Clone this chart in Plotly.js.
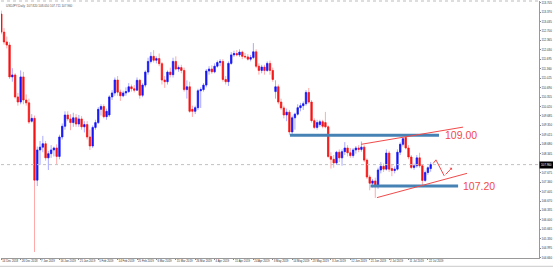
<!DOCTYPE html>
<html><head><meta charset="utf-8">
<script src="https://cdn.plot.ly/plotly-3.0.1.min.js"></script>
<style>html,body{margin:0;padding:0;background:#fff;}#chart{width:553px;height:267px;}</style>
</head><body><div id="chart"></div>
<script>
const dates = ["14 Dec 2018","17 Dec 2018","18 Dec 2018","19 Dec 2018","20 Dec 2018","21 Dec 2018","24 Dec 2018","26 Dec 2018","27 Dec 2018","28 Dec 2018","31 Dec 2018",
"2 Jan 2019","3 Jan 2019","4 Jan 2019","7 Jan 2019","8 Jan 2019","9 Jan 2019","10 Jan 2019","11 Jan 2019","14 Jan 2019","15 Jan 2019","16 Jan 2019","17 Jan 2019","18 Jan 2019","21 Jan 2019","22 Jan 2019","23 Jan 2019","24 Jan 2019","25 Jan 2019","28 Jan 2019","29 Jan 2019","30 Jan 2019","31 Jan 2019",
"1 Feb 2019","4 Feb 2019","5 Feb 2019","6 Feb 2019","7 Feb 2019","8 Feb 2019","11 Feb 2019","12 Feb 2019","13 Feb 2019","14 Feb 2019","15 Feb 2019","18 Feb 2019","19 Feb 2019","20 Feb 2019","21 Feb 2019","22 Feb 2019","25 Feb 2019","26 Feb 2019","27 Feb 2019","28 Feb 2019",
"1 Mar 2019","4 Mar 2019","5 Mar 2019","6 Mar 2019","7 Mar 2019","8 Mar 2019","11 Mar 2019","12 Mar 2019","13 Mar 2019","14 Mar 2019","15 Mar 2019","18 Mar 2019","19 Mar 2019","20 Mar 2019","21 Mar 2019","22 Mar 2019","25 Mar 2019","26 Mar 2019","27 Mar 2019","28 Mar 2019","29 Mar 2019",
"1 Apr 2019","2 Apr 2019","3 Apr 2019","4 Apr 2019","5 Apr 2019","8 Apr 2019","9 Apr 2019","10 Apr 2019","11 Apr 2019","12 Apr 2019","15 Apr 2019","16 Apr 2019","17 Apr 2019","18 Apr 2019","19 Apr 2019","22 Apr 2019","23 Apr 2019","24 Apr 2019","25 Apr 2019","26 Apr 2019","29 Apr 2019","30 Apr 2019",
"1 May 2019","2 May 2019","3 May 2019","6 May 2019","7 May 2019","8 May 2019","9 May 2019","10 May 2019","13 May 2019","14 May 2019","15 May 2019","16 May 2019","17 May 2019","20 May 2019","21 May 2019","22 May 2019","23 May 2019","24 May 2019","27 May 2019","28 May 2019","29 May 2019","30 May 2019","31 May 2019",
"3 Jun 2019","4 Jun 2019","5 Jun 2019","6 Jun 2019","7 Jun 2019","10 Jun 2019","11 Jun 2019","12 Jun 2019","13 Jun 2019","14 Jun 2019","17 Jun 2019","18 Jun 2019","19 Jun 2019","20 Jun 2019","21 Jun 2019","24 Jun 2019","25 Jun 2019","26 Jun 2019","27 Jun 2019","28 Jun 2019",
"1 Jul 2019","2 Jul 2019","3 Jul 2019","4 Jul 2019","5 Jul 2019","8 Jul 2019","9 Jul 2019","10 Jul 2019","11 Jul 2019","12 Jul 2019","15 Jul 2019","16 Jul 2019","17 Jul 2019","18 Jul 2019","19 Jul 2019","22 Jul 2019","23 Jul 2019"];

const openP = [113.30,112.66,112.31,112.20,111.07,111.14,110.36,110.18,111.07,110.25,110.15,109.50,109.60,
107.41,108.48,108.58,108.70,108.20,108.35,108.48,108.55,108.25,108.94,109.32,109.72,109.58,109.45,109.62,109.40,109.58,109.30,109.38,108.94,108.62,109.28,109.45,109.92,110.02,109.66,109.72,110.36,110.50,
110.96,110.53,110.40,110.50,110.55,110.72,110.65,110.60,110.95,110.42,110.78,
111.24,111.62,111.80,111.66,111.72,111.54,110.96,110.90,111.24,111.15,111.62,111.35,111.40,111.30,110.62,110.72,109.92,109.85,109.98,110.58,110.62,
110.78,111.28,111.35,111.25,111.45,111.58,111.62,110.98,110.90,111.55,
111.85,111.90,111.85,111.95,111.80,111.78,111.70,111.76,111.96,111.45,111.30,111.42,
111.30,111.55,111.30,110.55,110.72,110.18,109.97,109.72,109.82,109.12,109.62,109.75,109.98,110.05,110.12,110.52,110.18,109.52,109.28,109.38,109.48,109.45,109.30,
108.25,108.15,108.02,108.40,108.20,108.42,108.55,108.38,108.28,108.48,108.55,108.50,108.58,108.12,107.52,107.30,107.38,107.18,107.77,107.90,
107.80,108.37,107.82,107.75,107.80,108.40,108.68,108.92,108.55,108.23,107.86,107.92,108.20,107.92,107.40,107.68,107.82];

const highP = [113.42,112.80,112.50,112.30,111.38,111.20,110.50,111.30,111.25,110.45,110.30,109.75,109.70,
108.60,108.80,108.98,108.80,108.45,108.65,108.60,108.68,109.02,109.42,109.85,109.85,109.75,109.80,109.75,109.72,109.68,109.50,109.50,109.20,109.35,109.55,110.00,110.10,110.10,109.95,110.42,110.60,111.05,
111.10,110.62,110.58,110.70,110.85,110.80,110.78,111.05,111.00,110.85,111.30,
111.75,111.95,112.02,111.80,111.90,111.60,111.10,111.30,111.40,111.75,111.80,111.48,111.50,111.40,110.95,110.90,110.05,110.05,110.65,110.70,110.85,
111.35,111.45,111.48,111.55,111.65,111.70,111.70,111.10,111.62,111.95,
112.00,112.02,112.05,112.00,111.92,111.88,111.85,112.27,112.05,111.55,111.50,111.50,
111.62,111.65,111.40,110.95,110.80,110.30,110.05,109.95,109.90,109.70,109.80,110.10,110.15,110.20,110.60,110.68,110.25,109.60,109.55,109.55,109.55,109.83,109.35,
108.40,108.30,108.45,108.50,108.50,108.76,108.65,108.55,108.55,108.62,108.65,108.78,108.65,108.18,107.60,107.45,107.50,107.85,108.05,108.00,
108.50,108.45,107.95,107.90,108.50,108.75,108.95,109.00,108.65,108.30,108.00,108.30,108.38,107.98,107.75,107.90,108.05];

const lowP = [112.58,112.22,112.08,111.00,110.90,110.30,110.05,110.10,110.10,110.05,109.40,109.45,104.86,
107.20,107.95,108.40,108.10,107.77,108.20,108.25,107.98,108.15,108.85,109.20,109.50,109.18,109.30,109.30,109.30,109.20,109.10,108.85,108.48,108.55,109.20,109.40,109.70,109.60,109.55,109.65,110.25,110.40,
110.40,110.22,110.35,110.40,110.50,110.55,110.52,110.58,110.30,110.35,110.70,
111.15,111.55,111.58,111.55,111.45,110.80,110.68,110.80,111.05,111.05,111.30,111.25,111.20,110.55,110.30,109.80,109.65,109.75,109.90,109.97,110.55,
110.70,111.15,111.18,111.20,111.40,111.45,110.90,110.80,110.75,111.50,
111.78,111.80,111.78,111.70,111.72,111.65,111.62,111.70,111.38,111.15,111.20,111.15,
111.25,111.15,110.90,110.30,110.10,109.90,109.60,109.50,109.02,109.05,109.20,109.70,109.85,109.90,110.05,110.12,109.45,109.22,109.20,109.30,109.25,109.25,108.20,
107.82,107.85,107.95,108.05,107.92,108.30,108.25,108.20,108.20,108.35,108.40,108.42,108.05,107.45,107.05,107.15,106.78,107.10,107.65,107.70,
107.75,107.70,107.55,107.65,107.75,108.30,108.60,108.50,108.15,107.80,107.78,107.85,107.85,107.24,107.35,107.60,107.71];

const closeP = [112.66,112.31,112.20,111.07,111.14,110.36,110.18,111.07,110.25,110.15,109.47,109.60,107.41,
108.48,108.58,108.70,108.20,108.35,108.48,108.55,108.25,108.94,109.32,109.72,109.58,109.45,109.62,109.40,109.58,109.30,109.38,108.94,108.62,109.28,109.45,109.92,110.02,109.66,109.85,110.36,110.50,110.96,
110.53,110.40,110.50,110.55,110.72,110.65,110.60,110.95,110.42,110.78,111.24,
111.62,111.80,111.66,111.72,111.54,110.96,110.90,111.24,111.15,111.62,111.35,111.40,111.30,110.62,110.72,109.85,109.85,109.98,110.58,110.62,110.78,
111.28,111.35,111.25,111.45,111.58,111.62,110.98,110.90,111.55,111.85,
111.90,111.85,111.95,111.80,111.78,111.70,111.76,111.96,111.45,111.30,111.42,111.30,
111.55,111.30,110.98,110.72,110.18,109.97,109.72,109.82,109.12,109.62,109.75,109.98,110.05,110.12,110.52,110.18,109.52,109.28,109.45,109.48,109.32,109.30,108.25,
108.15,108.02,108.40,108.20,108.42,108.55,108.38,108.28,108.48,108.55,108.50,108.58,108.12,107.52,107.30,107.38,107.18,107.77,107.90,107.80,
108.37,107.80,107.75,107.80,108.40,108.68,108.88,108.55,108.23,107.86,107.92,108.20,107.92,107.40,107.68,107.85,107.96];

const yTickVals = [104.660,104.995,105.330,105.665,106.000,106.335,106.670,107.005,107.340,107.675,108.345,108.680,109.015,109.350,109.685,110.020,110.355,110.690,111.025,111.360,111.695,112.030,112.365,112.700,113.035,113.370,113.705];
const labelStep = 7;
const headerText = "USDJPY,Daily  107.820 108.050 107.711 107.960";
const level1 = 109.00, level2 = 107.20;

const xIdx = dates.map((d, i) => i);
const xTickVals = xIdx.filter(i => i % labelStep === 0);
const xTickText = xTickVals.map(i => dates[i]);
const bodyHigh = openP.map((o, i) => Math.max(o, closeP[i]));
const bodyLow = openP.map((o, i) => Math.min(o, closeP[i]));
const last = closeP[closeP.length - 1];

const wicks = {
  type: 'candlestick', x: xIdx, open: openP, high: highP, low: lowP, close: closeP,
  increasing: {line: {color: '#a9a9ff', width: 1}, fillcolor: '#a9a9ff'},
  decreasing: {line: {color: '#ffaaaa', width: 1}, fillcolor: '#ffaaaa'},
  whiskerwidth: 0, hoverinfo: 'skip'
};
const bodies = {
  type: 'candlestick', x: xIdx, open: openP, high: bodyHigh, low: bodyLow, close: closeP,
  increasing: {line: {color: '#1414f5', width: 0.6}, fillcolor: '#1414f5'},
  decreasing: {line: {color: '#f51414', width: 0.6}, fillcolor: '#f51414'},
  whiskerwidth: 0, hoverinfo: 'skip'
};

const red = '#f24a4a', blue = '#4682b4';
const layout = {
  width: 553, height: 267, autosize: false,
  margin: {l: 1, r: 14, t: 1, b: 9, pad: 0},
  paper_bgcolor: '#ffffff', plot_bgcolor: '#ffffff',
  showlegend: false, hovermode: false,
  font: {family: 'Liberation Sans, Arial, sans-serif', color: '#333'},
  xaxis: {
    range: [-0.094, 194.1], rangeslider: {visible: false},
    tickvals: xTickVals, ticktext: xTickText, ticklabelposition: 'outside right',
    tickangle: 0, automargin: false,
    tickfont: {size: 2.8, color: '#333'}, ticks: 'outside', ticklen: 1, tickcolor: '#888',
    showgrid: false, zeroline: false, showline: true, linecolor: '#999', linewidth: 1, fixedrange: true
  },
  yaxis: {
    side: 'right', range: [104.649, 113.762], automargin: false,
    tickvals: yTickVals, ticktext: yTickVals.map(v => v.toFixed(3)),
    tickfont: {size: 2.9, color: '#333'}, ticks: 'outside', ticklen: 1, tickcolor: '#888',
    showgrid: false, zeroline: false, showline: true, linecolor: '#999', linewidth: 1, fixedrange: true
  },
  shapes: [
    {type: 'line', xref: 'paper', yref: 'paper', x0: 0, x1: 1, y0: 1, y1: 1, line: {color: '#bbb', width: 1, dash: 'dot'}},
    {type: 'line', xref: 'paper', yref: 'y', x0: 0, x1: 1, y0: last, y1: last, line: {color: '#c0c0c0', width: 1, dash: 'dot'}},
    {type: 'rect', xref: 'paper', yref: 'paper', x0: -0.01, x1: 1.03, y0: -0.035, y1: -0.030, line: {width: 0}, fillcolor: '#d4d4d4'},
    {type: 'line', x0: 104.2, x1: 158.0, y0: level1, y1: level1, line: {color: blue, width: 3}},
    {type: 'line', x0: 133.3, x1: 164.9, y0: level2, y1: level2, line: {color: blue, width: 3}},
    {type: 'line', x0: 129.9, x1: 166.7, y0: 108.68, y1: 109.29, line: {color: red, width: 1}},
    {type: 'line', x0: 135.6, x1: 168.1, y0: 106.79, y1: 107.65, line: {color: red, width: 1}},
    {type: 'path', path: 'M 155.9 108.00 L 156.9 108.13 L 159.9 107.56', line: {color: red, width: 1}}
  ],
  annotations: [
    {xref: 'paper', yref: 'paper', x: 0.006, y: 0.997, xanchor: 'left', yanchor: 'top', text: headerText, showarrow: false, font: {size: 3, color: '#555'}},
    {xref: 'paper', yref: 'y', x: 1, y: last, xanchor: 'left', yanchor: 'middle', text: last.toFixed(3), showarrow: false, bgcolor: '#000', font: {size: 2.9, color: '#fff'}, borderpad: 1},
    {x: 159.5, y: level1, xanchor: 'left', yanchor: 'middle', text: level1.toFixed(2), showarrow: false, font: {size: 10.5, color: red}},
    {x: 166.0, y: level2, xanchor: 'left', yanchor: 'middle', text: level2.toFixed(2), showarrow: false, font: {size: 10.5, color: red}},
    {x: 162.7, y: 107.85, ax: 159.9, ay: 107.56, axref: 'x', ayref: 'y', text: '', showarrow: true, arrowhead: 1, arrowsize: 0.6, arrowwidth: 1, arrowcolor: red}
  ]
};
Plotly.newPlot('chart', [wicks, bodies], layout, {staticPlot: true, displayModeBar: false});
</script></body></html>
